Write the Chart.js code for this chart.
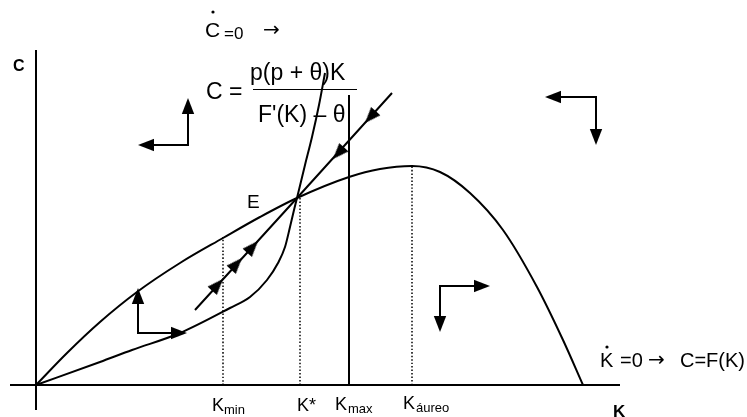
<!DOCTYPE html>
<html>
<head>
<meta charset="utf-8">
<script src="https://cdn.jsdelivr.net/npm/chart.js@4.4.1/dist/chart.umd.min.js"></script>
<style>
  body { margin: 0; background: #fff; }
  #wrap { width: 747px; height: 417px; }
</style>
</head>
<body>
<div id="wrap"><canvas id="myChart"></canvas></div>
<script>
// units: K to the right, C upwards, origin where the two axes cross
var fK = [0, 31, 64, 101, 144, 187, 224, 261, 313, 344, 376, 404, 434, 467, 501, 527, 547];
var fC = [0, 32, 63, 93, 122, 147, 168, 187, 208, 216, 219, 213, 192, 155, 98, 45, 0];

var cdotK = [0, 64, 96, 144, 194, 214, 231, 242, 249, 254, 258, 261, 269, 276, 283, 289];
var cdotC = [0, 23, 35, 52, 77, 88, 105, 122, 138, 158, 175, 187, 220, 248, 280, 312];

var saddleK = [159, 261, 356];
var saddleC = [75, 187, 292];
var eqK = 261, eqC = 187;

// arrowheads on the saddle path (tips), they all point at E
var saddleTipK = [187, 206, 222, 297, 329];
var saddleTipC = [106, 127, 144, 226, 262];

var kMin = 187, kStar = 264, kMax = 313, kGold = 376;
var kMinTop = 148, kStarTop = 187, kMaxTop = 290, kGoldTop = 219;

// direction arrows: corner, horizontal tip, vertical tip
var cornerK = [152, 560, 404, 102];
var cornerC = [240, 288, 99, 52];
var hTipK = [102, 509, 454, 151];
var vTipC = [287, 240, 53, 97];

var axisX = [-26, 584];
var axisY = [-25, 335];

function pts(xs, ys) {
  return xs.map(function (x, i) { return { x: x, y: ys[i] }; });
}
function line(data, extra) {
  var d = {
    data: data, showLine: true, pointRadius: 0, borderColor: '#000',
    borderWidth: 2, fill: false, cubicInterpolationMode: 'monotone'
  };
  for (var k in extra) d[k] = extra[k];
  return d;
}
function unit(dx, dy) {
  var l = Math.sqrt(dx * dx + dy * dy);
  return [dx / l, dy / l];
}

// arrowhead picture, tip at its centre pointing up
var arrowImg = document.createElement('canvas');
arrowImg.width = 14; arrowImg.height = 34;
var a = arrowImg.getContext('2d');
a.fillStyle = '#000';
a.beginPath(); a.moveTo(7, 17); a.lineTo(13.2, 33); a.lineTo(0.8, 33); a.closePath(); a.fill();

var datasets = [];
datasets.push(line(pts(axisX, [0, 0])));
datasets.push(line(pts([0, 0], axisY)));
datasets.push(line(pts(fK, fC)));
datasets.push(line(pts(cdotK, cdotC)));
datasets.push(line(pts(saddleK, saddleC), { cubicInterpolationMode: 'default', tension: 0 }));
datasets.push(line(pts([kMax, kMax], [0, kMaxTop])));
[[kMin, kMinTop], [kStar, kStarTop], [kGold, kGoldTop]].forEach(function (v) {
  datasets.push(line(pts([v[0], v[0]], [0, v[1]]), { borderWidth: 1.5, borderDash: [1.5, 2] }));
});

var heads = [], rots = [];
cornerK.forEach(function (ck, i) {
  var cc = cornerC[i];
  var uh = unit(hTipK[i] - ck, 0), uv = unit(0, vTipC[i] - cc);
  datasets.push(line([
    { x: hTipK[i] - uh[0] * 6, y: cc },
    { x: ck, y: cc },
    { x: ck, y: vTipC[i] - uv[1] * 6 }
  ], { cubicInterpolationMode: 'default', tension: 0 }));
  heads.push({ x: hTipK[i], y: cc }); rots.push(Math.atan2(hTipK[i] - ck, 0) * 180 / Math.PI);
  heads.push({ x: ck, y: vTipC[i] }); rots.push(Math.atan2(0, vTipC[i] - cc) * 180 / Math.PI);
});
saddleTipK.forEach(function (k, i) {
  var c = saddleTipC[i];
  heads.push({ x: k, y: c });
  rots.push(Math.atan2(eqK - k, eqC - c) * 180 / Math.PI);
});
datasets.push({
  data: heads, showLine: false, pointStyle: arrowImg, pointRadius: 6,
  pointRotation: rots, pointBackgroundColor: '#000', pointBorderWidth: 0
});

var SANS = '"Liberation Sans", Arial, sans-serif';
var ARR = '"DejaVu Sans", sans-serif';
var labels = [
  { t: 'C', k: -23, c: 314, f: 'bold 16px ' + SANS },
  { t: 'K', k: 577, c: -32, f: 'bold 17px ' + SANS },
  { t: 'E', k: 211, c: 177, f: '19px ' + SANS },
  { t: 'K', k: 176, c: -26, f: '18px ' + SANS },
  { t: 'min', k: 188, c: -29, f: '13px ' + SANS },
  { t: 'K*', k: 261, c: -26, f: '18px ' + SANS },
  { t: 'K', k: 299, c: -25, f: '18px ' + SANS },
  { t: 'max', k: 312, c: -28, f: '13px ' + SANS },
  { t: 'K', k: 367, c: -24, f: '18px ' + SANS },
  { t: 'áureo', k: 380, c: -27, f: '13px ' + SANS },
  { t: 'C', k: 169, c: 348, f: '21px ' + SANS, dot: 8, dy: 25 },
  { t: '=0', k: 188, c: 346, f: '17px ' + SANS },
  { t: '\u2192', k: 227, c: 349, f: '20px ' + ARR },
  { t: 'C =', k: 170, c: 286, f: '23px ' + SANS },
  { t: 'p(p + \u03b8)K', k: 214, c: 305, f: '23px ' + SANS },
  { t: 'F\'(K) \u2013 \u03b8', k: 222, c: 263, f: '23px ' + SANS },
  { t: 'K', k: 564, c: 18, f: '20px ' + SANS, dot: 7, dy: 20 },
  { t: '=0', k: 584, c: 18, f: '20px ' + SANS },
  { t: '\u2192', k: 612, c: 19, f: '20px ' + ARR },
  { t: 'C=F(K)', k: 644, c: 18, f: '20px ' + SANS }
];
var fracK = [217, 321], fracC = 296;

var textPlugin = {
  id: 'texts',
  afterDatasetsDraw: function (chart) {
    var ctx = chart.ctx, sx = chart.scales.x, sy = chart.scales.y;
    ctx.save();
    ctx.fillStyle = '#000';
    ctx.textBaseline = 'alphabetic';
    labels.forEach(function (l) {
      var x = sx.getPixelForValue(l.k), y = sy.getPixelForValue(l.c);
      ctx.font = l.f;
      ctx.fillText(l.t, x, y);
      if (l.dot) {
        ctx.beginPath();
        ctx.arc(x + l.dot, y - l.dy, 1.6, 0, Math.PI * 2);
        ctx.fill();
      }
    });
    ctx.strokeStyle = '#000';
    ctx.lineWidth = 1;
    ctx.beginPath();
    ctx.moveTo(sx.getPixelForValue(fracK[0]), sy.getPixelForValue(fracC) + 0.5);
    ctx.lineTo(sx.getPixelForValue(fracK[1]), sy.getPixelForValue(fracC) + 0.5);
    ctx.stroke();
    ctx.restore();
  }
};

var ctx = document.getElementById('myChart').getContext('2d');
var myChart = new Chart(ctx, {
  type: 'scatter',
  data: { datasets: datasets },
  options: {
    responsive: true,
    maintainAspectRatio: false,
    animation: false,
    layout: { padding: 0, autoPadding: false },
    plugins: { legend: { display: false }, tooltip: { enabled: false } },
    scales: {
      x: { type: 'linear', min: -36, max: 711, display: false },
      y: { type: 'linear', min: -32, max: 385, display: false }
    }
  },
  plugins: [textPlugin]
});
</script>
</body>
</html>
